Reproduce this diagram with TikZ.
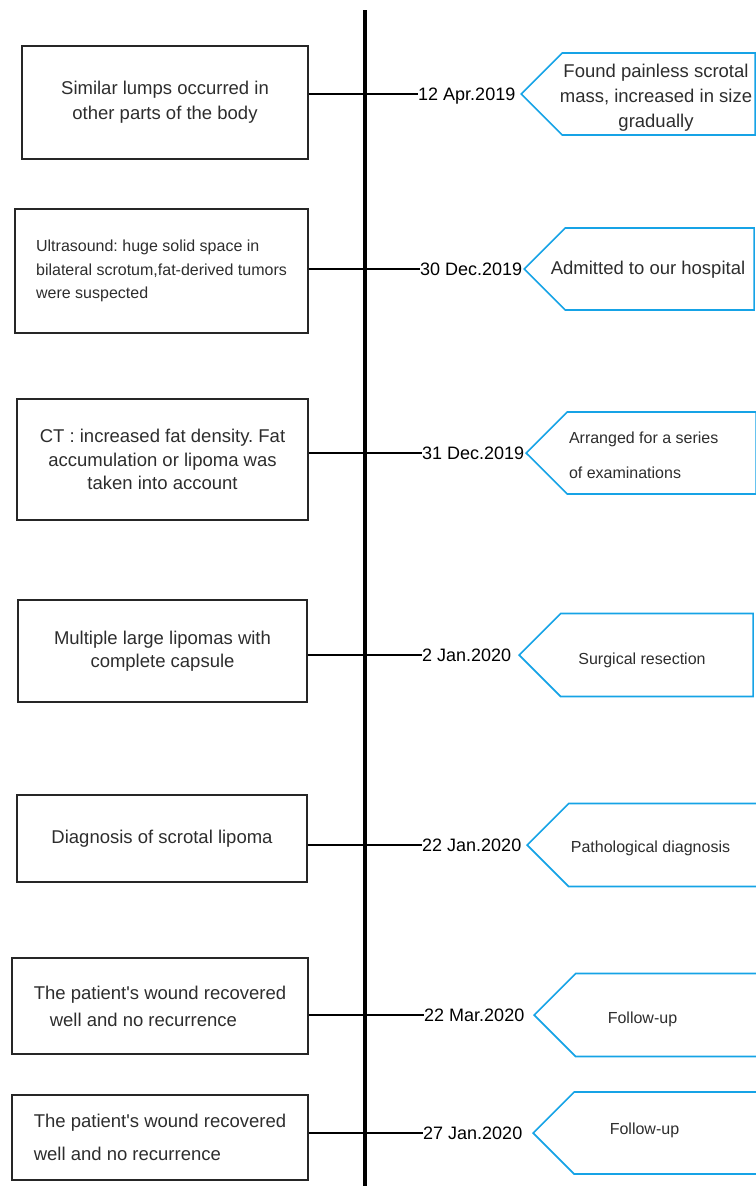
\documentclass[tikz,border=0pt]{standalone}
\usepackage{fontspec}
\setmainfont{Liberation Sans}
\usetikzlibrary{shapes.symbols}
\frenchspacing

\definecolor{tagblue}{RGB}{22,163,230}
\definecolor{txtgray}{RGB}{45,45,45}

\tikzset{
  lbox/.style={draw=black!85, line width=1.3pt, text=txtgray, align=center, inner sep=0pt},
  tag/.style={shape=signal, signal to=west, signal from=nowhere, signal pointer angle=90,
    draw=tagblue, line width=1.6pt, inner sep=0pt, anchor=west},
  tagtext/.style={text=txtgray, inner sep=0pt},
  dlabel/.style={anchor=west, inner sep=0pt, text height=13pt, text depth=0pt,
    font=\fontsize{18}{20}\selectfont},
  conn/.style={line width=1.2pt},
  bigtxt/.style={font=\fontsize{18.5}{25}\selectfont},
  smalltxt/.style={font=\fontsize{16}{23.5}\selectfont}
}

\begin{document}
\begin{tikzpicture}[x=1pt, y=-1pt]

\useasboundingbox (0,0) rectangle (755,1186);

\node[lbox, bigtxt, minimum width=286pt, minimum height=113pt] (b1) at (165,102.5) {Similar lumps occurred in\\other parts of the body};
\node[lbox, smalltxt, align=left, minimum width=293pt, minimum height=124pt] (b2) at (161.5,271) {Ultrasound: huge solid space in\\bilateral scrotum,fat-derived tumors\\were suspected};
\node[lbox, font=\fontsize{18.5}{23.5}\selectfont, minimum width=291pt, minimum height=121pt] (b3) at (162.5,459.5) {CT : increased fat density. Fat\\accumulation or lipoma was\\taken into account};
\node[lbox, font=\fontsize{18.5}{23.5}\selectfont, minimum width=289pt, minimum height=102pt] (b4) at (162.5,651) {Multiple large lipomas with\\complete capsule};
\node[lbox, bigtxt, minimum width=290pt, minimum height=87pt] (b5) at (162,838.5) {Diagnosis of scrotal lipoma};
\node[lbox, font=\fontsize{18.5}{27}\selectfont, align=left, minimum width=296pt, minimum height=96pt] (b6) at (160,1006) {The patient\textquotesingle s wound recovered\\\hspace*{16pt}well and no recurrence};
\node[lbox, font=\fontsize{18.5}{33}\selectfont, align=left, minimum width=296pt, minimum height=85pt] (b7) at (160,1137.5) {The patient\textquotesingle s wound recovered\\well and no recurrence};

\node[dlabel] (d1) at (418,94) {12 Apr.2019};
\node[dlabel] (d2) at (420,269) {30 Dec.2019};
\node[dlabel] (d3) at (422,453) {31 Dec.2019};
\node[dlabel] (d4) at (422,655) {2 Jan.2020};
\node[dlabel] (d5) at (422,845) {22 Jan.2020};
\node[dlabel] (d6) at (424,1015) {22 Mar.2020};
\node[dlabel] (d7) at (423,1133) {27 Jan.2020};

\draw[conn] (b1.east |- d1.west) -- (d1.west);
\draw[conn] (b2.east |- d2.west) -- (d2.west);
\draw[conn] (b3.east |- d3.west) -- (d3.west);
\draw[conn] (b4.east |- d4.west) -- (d4.west);
\draw[conn] (b5.east |- d5.west) -- (d5.west);
\draw[conn] (b6.east |- d6.west) -- (d6.west);
\draw[conn] (b7.east |- d7.west) -- (d7.west);

\coordinate (top) at (365,10);
\coordinate (bot) at (365,1190);
\draw[line width=3.5pt] (top) -- (bot);

\node[tag, minimum width=234pt, minimum height=82pt] (p1) at (520,94) {};
\node[tag, minimum width=230pt, minimum height=82pt] (p2) at (523,269) {};
\node[tag, minimum width=230pt, minimum height=82pt] (p3) at (525,453) {};
\node[tag, minimum width=234pt, minimum height=83pt] (p4) at (518,655) {};
\node[tag, minimum width=231pt, minimum height=83pt] (p5) at (526,845) {};
\node[tag, minimum width=224pt, minimum height=83pt] (p6) at (533,1015) {};
\node[tag, minimum width=225pt, minimum height=82pt] (p7) at (532,1133) {};

\node[tagtext, bigtxt, align=center] (t1) at (656,98) {Found painless scrotal\\mass, increased in size\\gradually};
\node[tagtext, bigtxt] (t2) at (648,270) {Admitted to our hospital};
\node[tagtext, font=\fontsize{16}{35}\selectfont, align=left] (t3) at (643.7,455.6) {Arranged for a series\\of examinations};
\node[tagtext, smalltxt] (t4) at (642,660) {Surgical resection};
\node[tagtext, smalltxt] (t5) at (650.5,848) {Pathological diagnosis};
\node[tagtext, smalltxt] (t6) at (642.5,1019) {Follow-up};
\node[tagtext, smalltxt] (t7) at (644.5,1130) {Follow-up};

\end{tikzpicture}
\end{document}
